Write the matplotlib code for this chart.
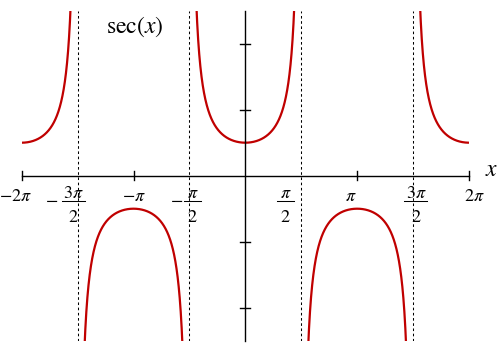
import numpy as np
import matplotlib
matplotlib.use("Agg")
import matplotlib.pyplot as plt

plt.rcParams['mathtext.fontset'] = 'stix'
plt.rcParams['font.family'] = ['STIXGeneral', 'DejaVu Serif']

# Data
x_min, x_max = -2 * np.pi, 2 * np.pi
y_min, y_max = -5, 5
asymptotes = [-1.5 * np.pi, -0.5 * np.pi, 0.5 * np.pi, 1.5 * np.pi]
x_ticks = [-2 * np.pi, -np.pi, np.pi, 2 * np.pi]
y_ticks = [-4, -2, 2, 4]
branch_edges = [x_min] + asymptotes + [x_max]

# simple tick labels: (text, x position in units of pi)
plain_labels = [
    (r"$-2\pi$", -2.057),
    (r"$-\pi$", -1.0),
    (r"$\pi$", 0.94),
    (r"$2\pi$", 2.05),
]
# fraction labels: (numerator, denominator, centre in units of pi, bar width in px, minus position or None)
frac_labels = [
    (r"$3\pi$", r"$2$", -1.534, 23, -1.735),
    (r"$\pi$", r"$2$", -0.474, 17, -0.617),
    (r"$\pi$", r"$2$", 0.358, 17, None),
    (r"$3\pi$", r"$2$", 1.525, 23, None),
]

fig = plt.figure(figsize=(4.99, 3.51), dpi=100)
ax = fig.add_axes([21.7 / 499, 10.3 / 351, 447.3 / 499, 330 / 351])
ax.set_xlim(x_min, x_max)
ax.set_ylim(y_min, y_max)
ax.axis('off')

red = '#C00000'
for a, b in zip(branch_edges[:-1], branch_edges[1:]):
    xs = np.linspace(a, b, 2000)[1:-1]
    ys = 1.0 / np.cos(xs)
    ys = np.where(np.abs(ys) > 5.3, np.nan, ys)
    ax.plot(xs, ys, color=red, lw=1.6, solid_capstyle='butt')

# asymptotes
for a in asymptotes:
    ax.plot([a, a], [y_min, y_max], color='black', lw=0.75, linestyle=(0, (2.5, 2.5)))

# axes
ax.plot([x_min, x_max], [0, 0], color='black', lw=1.0, clip_on=False)
ax.plot([0, 0], [y_min, y_max], color='black', lw=1.0, clip_on=False)
tx = 0.13
for t in x_ticks:
    ax.plot([t, t], [-tx, tx], color='black', lw=1.0, clip_on=False)
ty = 0.14
for t in y_ticks:
    ax.plot([-ty, ty], [t, t], color='black', lw=1.0, clip_on=False)

px_per_unit = 111.8 / np.pi
fs = 13
for txt, xp in plain_labels:
    ax.text(xp * np.pi, -0.77, txt, ha='center', va='baseline', fontsize=fs, clip_on=False)

for num, den, c, w, mpos in frac_labels:
    xc = c * np.pi
    ax.text(xc, -0.68, num, ha='center', va='baseline', fontsize=fs, clip_on=False)
    ax.text(xc, -1.39, den, ha='center', va='baseline', fontsize=fs, clip_on=False)
    hw = w / 2 / px_per_unit
    ax.plot([xc - hw, xc + hw], [-0.77, -0.77], color='black', lw=0.75, clip_on=False)
    if mpos is not None:
        ax.text(mpos * np.pi, -0.77, r"$-$", ha='center', va='center', fontsize=fs, clip_on=False)

ax.text(-1.0 * np.pi + 0.03, 4.5, r"$\mathrm{sec}(x)$", fontsize=17, ha='center', va='center')
ax.text(2.2 * np.pi, 0.15, r"$x$", fontsize=17, ha='center', va='center', clip_on=False)

fig.savefig('out.png', dpi=100)
